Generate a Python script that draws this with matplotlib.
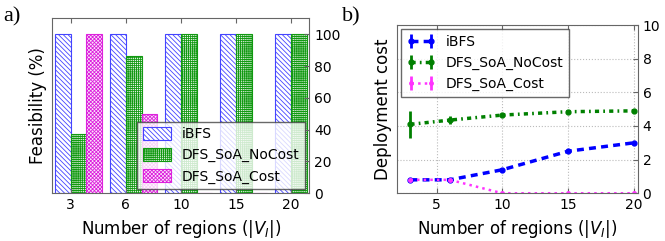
import numpy as np
import matplotlib.pyplot as plt

# data
regions = [3, 6, 10, 15, 20]
feas_ibfs = [100, 100, 100, 100, 100]
feas_nocost = [37, 86, 100, 100, 100]
feas_cost = [100, 50, 0, 0, 0]

cost_ibfs = [0.8, 0.8, 1.4, 2.5, 3.0]
cost_nocost = [4.1, 4.35, 4.65, 4.85, 4.9]
err_nocost = [0.8, 0.25, 0.05, 0.05, 0.05]
cost_cost = [0.8, 0.8, 0.0, 0.0, 0.0]

plt.rcParams['font.family'] = 'DejaVu Sans'
plt.rcParams['hatch.linewidth'] = 0.6

fig = plt.figure(figsize=(6.65, 2.41), dpi=100)

# a) feasibility bars
ax1 = fig.add_axes([0.0787, 0.198, 0.3864, 0.726])
ind = np.arange(len(regions))
w = 0.285
ax1.bar(ind, feas_ibfs, w, align='edge', color='white', edgecolor='#4444ff',
        hatch='\\' * 7, linewidth=0.8, label='iBFS')
ax1.bar(ind + w, feas_nocost, w, align='edge', color='#e8f5e8', edgecolor='#119911',
        hatch='+' * 8, linewidth=0.8, label='DFS_SoA_NoCost')
ax1.bar(ind + 2 * w, feas_cost, w, align='edge', color='#fbe6fb', edgecolor='#dd22dd',
        hatch='x' * 9, linewidth=0.8, label='DFS_SoA_Cost')
ax1.set_xticks(ind + w)
ax1.set_xticklabels(regions)
ax1.set_xlim(-0.05, 4.615)
ax1.set_ylim(0, 110)
ax1.set_yticks([0, 20, 40, 60, 80, 100])
ax1.yaxis.tick_right()
ax1.yaxis.set_label_position('left')
ax1.set_ylabel('Feasibility (%)', fontsize=12)
ax1.set_xlabel('Number of regions ($|V_I|$)', fontsize=12)
ax1.tick_params(direction='in', labelsize=10, top=True, color='#666666')
for s in ax1.spines.values():
    s.set_color('#666666')
leg1 = ax1.legend(loc='lower right', fontsize=10, fancybox=False,
                  borderaxespad=0.3, handlelength=2.0, handleheight=1.0)
leg1.get_frame().set_edgecolor('#444444')
leg1.get_frame().set_linewidth(1.0)

# b) deployment cost
ax2 = fig.add_axes([0.5974, 0.198, 0.3616, 0.698])
ax2.errorbar(regions, cost_ibfs, yerr=[0.02] * 5, color='blue', ls=(0, (2, 1.5)),
             lw=2.5, marker='o', ms=3.5, elinewidth=2, label='iBFS')
ax2.errorbar(regions, cost_nocost, yerr=err_nocost, color='green',
             ls=(0, (1.2, 1.2, 0.5, 1.2)), lw=2.5, marker='o', ms=3.5,
             elinewidth=2, label='DFS_SoA_NoCost')
ax2.errorbar(regions, cost_cost, yerr=[0.02] * 5, color='#ff33ff', ls=':', lw=1.8,
             marker='o', ms=2.5, elinewidth=2, label='DFS_SoA_Cost')
ax2.set_xlim(2, 20.3)
ax2.set_ylim(0, 10)
ax2.set_xticks([5, 10, 15, 20])
ax2.set_yticks([0, 2, 4, 6, 8, 10])
ax2.yaxis.tick_right()
ax2.yaxis.set_label_position('left')
ax2.set_ylabel('Deployment cost', fontsize=12)
ax2.set_xlabel('Number of regions ($|V_I|$)', fontsize=12)
ax2.grid(True, ls=':', color='#bbbbbb', lw=0.8)
ax2.tick_params(direction='in', labelsize=10, top=True, color='#666666')
for s in ax2.spines.values():
    s.set_color('#666666')
leg2 = ax2.legend(loc='upper left', fontsize=10, fancybox=False, numpoints=2,
                  borderaxespad=0.3, handlelength=2.0)
leg2.get_frame().set_edgecolor('#444444')
leg2.get_frame().set_linewidth(1.0)

fig.text(0.005, 0.97, 'a)', fontsize=16, family='Liberation Serif', va='top')
fig.text(0.515, 0.97, 'b)', fontsize=16, family='Liberation Serif', va='top')

fig.savefig('out.png', dpi=100)
